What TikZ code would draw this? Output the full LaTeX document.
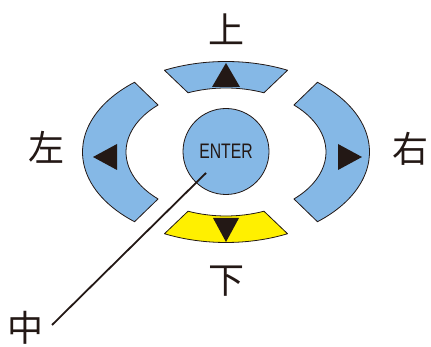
\documentclass[tikz,border=0pt]{standalone}
\usepackage{fontspec}
\newfontfamily\cjkfont{Noto Sans CJK SC}
\newfontfamily\keyfont[FakeStretch=0.75]{Liberation Sans}
\definecolor{ink}{HTML}{231815}
\definecolor{padblue}{HTML}{85B8E6}
\definecolor{padyellow}{HTML}{FFF000}
\newcommand{\dirfontsize}{\fontsize{36}{40}\selectfont}
\tikzset{
  every picture/.style = {line join=round},
  pad/.style           = {draw=ink, line width=0.8pt},
  tip/.style           = {fill=ink},
  dirlabel/.style      = {text=ink, font=\cjkfont\dirfontsize, inner sep=0pt},
  lead/.style          = {draw=ink, line width=1.8pt},
}
% one key of the pad: a piece of the elliptic ring, outer angles #2..#3, inner #4..#5
\newcommand{\padkey}[5]{%
  \filldraw[pad, fill=#1]
    ([shift={({\Ra*cos(#2)},{\Rb*sin(#2)})}]C)
      arc[start angle=#2, end angle=#3, x radius=\Ra, y radius=\Rb]
    -- ([shift={({\ra*cos(#5)},{\rb*sin(#5)})}]C)
      arc[start angle=#5, end angle=#4, x radius=\ra, y radius=\rb]
    -- cycle;}

\begin{document}
\begin{tikzpicture}[x=1pt, y=1pt]
  \useasboundingbox (0,0) rectangle (431,347);
  \def\Ra{143.5}\def\Rb{90.5}   % outer rim of the ring
  \def\ra{100}\def\rb{64}       % inner rim

  \coordinate (C) at (226,195);

  % the four keys
  \padkey{padblue}{64.6}{115.4}{67.7}{112.3}      % up
  \padkey{padblue}{129.6}{230.4}{132.8}{227.2}    % left
  \padkey{padyellow}{244.6}{295.4}{247.7}{292.3}  % down
  \padkey{padblue}{-50.4}{50.4}{-47.2}{47.2}      % right

  % arrow heads on the keys
  \fill[tip] (226,284) -- (212,260) -- (240,260) -- cycle;
  \fill[tip] (226,105) -- (213,129) -- (239,129) -- cycle;
  \fill[tip] (93,190) -- (117,203) -- (117,177) -- cycle;
  \fill[tip] (362,190) -- (338,203) -- (338,177) -- cycle;

  \node[pad, circle, fill=padblue, minimum size=86, inner sep=0pt,
        text=ink, font=\keyfont\fontsize{21}{24}\selectfont] (enter) at (226,195.5) {ENTER};

  \node[dirlabel] (up)    at (226,318) {上};
  \node[dirlabel] (down)  at (226,66)  {下};
  \node[dirlabel] (left)  at (46,200)  {左};
  \node[dirlabel] (right) at (410,198) {右};
  \node[dirlabel] (mid)   at (25,19)   {中};

  % leader from the label into the centre key
  \coordinate (leadfoot) at (52,22);
  \coordinate (leadend)  at (206,174);
  \draw[lead] (leadfoot) -- (leadend);
\end{tikzpicture}
\end{document}
